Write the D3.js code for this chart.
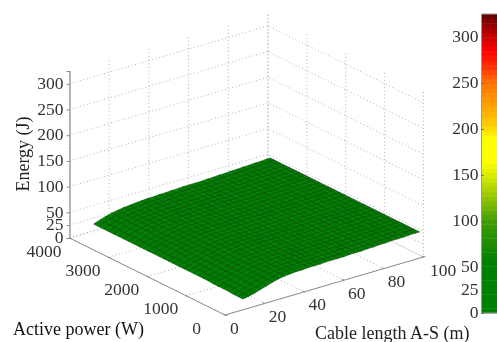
<!DOCTYPE html>
<html><head><meta charset="utf-8">
<script src="https://cdn.jsdelivr.net/npm/d3@7"></script>
<style>html,body{margin:0;background:#fff;overflow:hidden}svg{display:block;filter:blur(0.45px)}text{font-family:"Liberation Serif",serif}</style>
</head><body><svg id="c" width="497" height="342"></svg>
<script>
const zTicks=[0,25,50,100,150,200,250,300];
const powerTicks=[0,1000,2000,3000,4000];
const lengthTicks=[0,20,40,60,80,100];
const lengths=[11,14,17,20,23,26,29,32,35,38,41,44,47,50,53,56,59,62,65,68,71,74,77,80,83,86,89,92,95,98,100];
const powers=[100,228,356,484,612,740,868,996,1124,1252,1380,1508,1636,1764,1892,2020,2148,2276,2404,2532,2660,2788,2916,3044,3172,3300,3428,3556,3684,3812,3940];
const energy=[
[15,17,20,24,27,31,34,36,37,38,38,39,39,39,40,40,40,40,41,41,41,42,42,43,43,44,44,44,45,45,45],
[15,17,20,24,27,31,34,36,37,38,38,39,39,39,40,40,40,40,41,41,41,42,42,43,43,44,44,44,45,45,45],
[15,17,21,24,28,31,34,36,37,38,38,39,39,39,40,40,40,40,41,41,41,42,42,43,43,44,44,44,45,45,45],
[16,18,21,24,28,31,34,36,37,37,38,38,39,39,39,40,40,40,41,41,41,42,42,43,43,44,44,44,45,45,45],
[16,18,21,25,28,31,34,35,36,37,38,38,39,39,39,40,40,40,41,41,41,42,42,43,43,43,44,44,45,45,45],
[16,18,22,25,28,31,34,35,36,37,38,38,38,39,39,40,40,40,40,41,41,42,42,43,43,43,44,44,45,45,45],
[16,19,22,25,28,31,34,35,36,37,38,38,38,39,39,39,40,40,40,41,41,42,42,43,43,43,44,44,44,45,45],
[17,19,22,25,28,31,33,35,36,37,38,38,38,39,39,39,40,40,40,41,41,42,42,43,43,43,44,44,44,45,45],
[17,19,22,25,28,31,33,35,36,37,38,38,38,39,39,39,40,40,40,41,41,42,42,43,43,43,44,44,44,45,45],
[17,20,23,26,29,31,33,35,36,37,38,38,38,39,39,39,40,40,40,41,41,42,42,43,43,43,44,44,44,45,45],
[17,20,23,26,29,31,33,35,36,37,38,38,38,39,39,39,40,40,40,41,41,42,42,43,43,43,44,44,44,45,45],
[17,20,23,26,29,31,33,35,36,37,38,38,38,39,39,39,40,40,40,41,41,42,42,43,43,43,44,44,44,45,45],
[17,20,23,26,29,31,33,35,36,37,38,38,38,38,39,39,39,40,40,41,41,42,42,43,43,43,44,44,44,45,45],
[17,20,23,26,29,31,33,35,36,37,38,38,38,38,39,39,39,40,40,41,41,42,42,43,43,43,44,44,44,45,45],
[17,20,24,27,29,31,33,35,36,37,37,38,38,38,39,39,39,40,40,41,41,42,42,43,43,43,44,44,44,45,45],
[17,20,24,27,29,31,33,35,36,37,37,38,38,38,39,39,39,40,40,41,41,42,42,42,43,43,44,44,44,45,45],
[17,20,24,27,29,31,33,35,36,36,37,38,38,38,39,39,39,40,40,40,41,41,42,42,43,43,44,44,44,45,45],
[17,20,24,27,29,31,33,35,36,36,37,38,38,38,38,39,39,39,40,40,41,41,42,42,43,43,44,44,44,45,45],
[17,20,24,27,29,32,33,35,36,36,37,37,38,38,38,39,39,39,40,40,41,41,42,42,43,43,44,44,44,45,45],
[17,21,24,27,29,32,33,35,36,36,37,37,38,38,38,39,39,39,40,40,41,41,42,42,43,43,44,44,44,45,45],
[17,21,24,27,29,32,33,35,36,36,37,37,38,38,38,39,39,39,40,40,41,41,42,42,43,43,44,44,45,45,45],
[17,21,24,27,29,32,33,35,36,36,37,37,38,38,38,39,39,39,40,40,41,41,42,42,43,43,44,44,45,45,45],
[17,21,24,28,30,32,33,35,35,36,37,37,38,38,38,39,39,39,39,40,40,41,41,42,42,43,43,44,45,45,45],
[17,21,25,28,30,32,33,34,35,36,36,37,37,38,38,39,39,39,39,40,40,41,41,42,42,43,43,44,44,45,45],
[17,21,25,28,30,32,33,34,35,36,36,37,37,38,38,39,39,39,39,40,40,41,41,42,42,43,43,44,44,45,45],
[17,21,25,28,30,32,33,34,35,36,36,37,37,38,38,39,39,39,39,40,40,41,41,42,42,43,43,44,44,45,45],
[17,21,25,28,30,32,33,34,35,36,36,37,37,38,38,39,39,39,39,40,40,41,41,42,42,43,43,44,44,45,45],
[17,21,25,28,30,32,33,34,35,36,36,37,37,38,38,39,39,39,39,40,40,41,41,42,42,43,43,44,44,45,45],
[17,21,25,28,30,32,33,34,35,36,36,37,37,38,38,39,39,39,39,40,40,41,41,42,42,43,43,44,44,45,45],
[17,21,25,28,30,32,33,34,35,36,36,37,37,38,38,39,39,39,39,40,40,41,41,42,42,43,43,44,44,45,45],
[17,21,25,28,30,32,33,34,35,36,36,37,37,38,38,39,39,39,39,40,40,41,41,42,42,43,43,44,44,45,45]
];
const colorValues=[0,55,100,130,150,165,190,205,230,250,270,285,300,325];
const colorHexes=["#008000","#008000","#409c00","#a0cc00","#d8ec00","#ffff00","#ffff00","#ffcc00","#ff9a00","#ff7400","#ff2800","#ff0000","#cc0000","#5c0000"];
const zMax=325, colorSteps=64;

const svg=d3.select("#c");
const ox=225, oy=315;
const lenX=d3.scaleLinear([0,100],[0,198.5]), lenY=d3.scaleLinear([0,100],[0,-58]);
const powX=d3.scaleLinear([0,4000],[0,-155.5]), powY=d3.scaleLinear([0,4000],[0,-77]);
const zY=d3.scaleLinear([0,zMax],[0,-167]);
const P=(l,p,z=0)=>[ox+lenX(l)+powX(p), oy+lenY(l)+powY(p)+zY(z)];
const color=d3.scaleLinear(colorValues,colorHexes).clamp(true);
const line=d3.line();
const grid=svg.append("g").attr("fill","none").attr("stroke","#a8a8a8").attr("stroke-width",0.9).attr("stroke-dasharray","1 2.6");
const gl=pts=>grid.append("path").attr("d",line(pts));
const Lmax=100,Pmax=4000;
zTicks.forEach(z=>{gl([P(0,Pmax,z),P(Lmax,Pmax,z),P(Lmax,0,z)]);});
lengthTicks.forEach(l=>{gl([P(l,0),P(l,Pmax),P(l,Pmax,zMax)]);});
powerTicks.forEach(p=>{gl([P(0,p),P(Lmax,p),P(Lmax,p,zMax)]);});

// surface
const surf=svg.append("g").attr("stroke","#004000").attr("stroke-width",0.55).attr("stroke-linejoin","round");
for(let j=powers.length-2;j>=0;j--)for(let i=lengths.length-2;i>=0;i--){
  const c=[[i,j],[i+1,j],[i+1,j+1],[i,j+1]];
  const mean=d3.mean(c,d=>energy[d[1]][d[0]]);
  surf.append("path").attr("d",line(c.map(d=>P(lengths[d[0]],powers[d[1]],energy[d[1]][d[0]])))+"Z").attr("fill",color(mean));
}

// axes
const axisC="#8c8c8c";
const ax=svg.append("g").attr("stroke",axisC).attr("fill","none").attr("stroke-width",1);
ax.append("path").attr("d",line([P(0,Pmax),P(0,0),P(101,0)]));
powerTicks.forEach(p=>{const a=P(0,p);ax.append("path").attr("d",line([a,[a[0]+2.5,a[1]+0.7]]));});
lengthTicks.forEach(l=>{const a=P(l,0);ax.append("path").attr("d",line([a,[a[0]-2,a[1]-1]]));});
const tickFill="#333333", fs=17.5;
const zScale=d3.scaleLinear([0,zMax],[P(0,Pmax)[1],P(0,Pmax,zMax)[1]]);
const zAxis=svg.append("g").attr("transform",`translate(${P(0,Pmax)[0]},0)`).call(d3.axisLeft(zScale).tickValues(zTicks).tickSize(3).tickPadding(3).tickFormat(d3.format("d")));
zAxis.select(".domain").attr("stroke",axisC).attr("stroke-width",1.2);
zAxis.selectAll("line").attr("stroke",axisC);
zAxis.selectAll("text").attr("fill",tickFill).style("font-size",fs+"px").style("font-family","Liberation Serif").attr("dy","0.27em");
const tl=svg.append("g").attr("fill",tickFill).style("font-size",fs+"px");
powerTicks.forEach(p=>{const a=P(0,p);tl.append("text").attr("x",a[0]-(p===0?24:8)).attr("y",a[1]+18.5).attr("text-anchor","end").text(p);});
lengthTicks.forEach(l=>{const a=P(l,0);tl.append("text").attr("x",a[0]+(l===100?6.5:l===0?5:4)).attr("y",a[1]+18.5).text(l);});
svg.append("text").attr("transform","translate(29,154) rotate(-90)").attr("text-anchor","middle").attr("fill","#222").style("font-size","18px").text("Energy (J)");
svg.append("text").attr("x",13).attr("y",335).attr("fill","#111").style("font-size","18px").text("Active power (W)");
svg.append("text").attr("x",315).attr("y",339).attr("fill","#222").style("font-size","18px").text("Cable length A-S (m)");

// colorbar
const cbY=d3.scaleLinear([0,zMax],[313,14]);
const cbX=481.5;
const bands=d3.range(colorSteps).map(k=>k*zMax/colorSteps);
svg.append("g").selectAll("rect").data(bands).join("rect")
  .attr("x",cbX).attr("width",497-cbX)
  .attr("y",d=>cbY(d+zMax/colorSteps)).attr("height",d=>cbY(d)-cbY(d+zMax/colorSteps)+0.4)
  .attr("fill",d=>color(d+zMax/colorSteps/2));
svg.append("path").attr("d",line([[497,14],[cbX,14],[cbX,313],[497,313]])).attr("fill","none").attr("stroke","#999").attr("stroke-width",1);
const cbAxis=svg.append("g").attr("transform",`translate(${cbX},0)`).call(d3.axisLeft(cbY).tickValues(zTicks).tickSize(-2).tickPadding(3).tickFormat(d3.format("d")));
cbAxis.select(".domain").remove();
cbAxis.selectAll("line").attr("stroke","#555");
cbAxis.selectAll("text").attr("fill",tickFill).style("font-size",fs+"px").style("font-family","Liberation Serif").attr("dy","0.27em");
</script></body></html>
